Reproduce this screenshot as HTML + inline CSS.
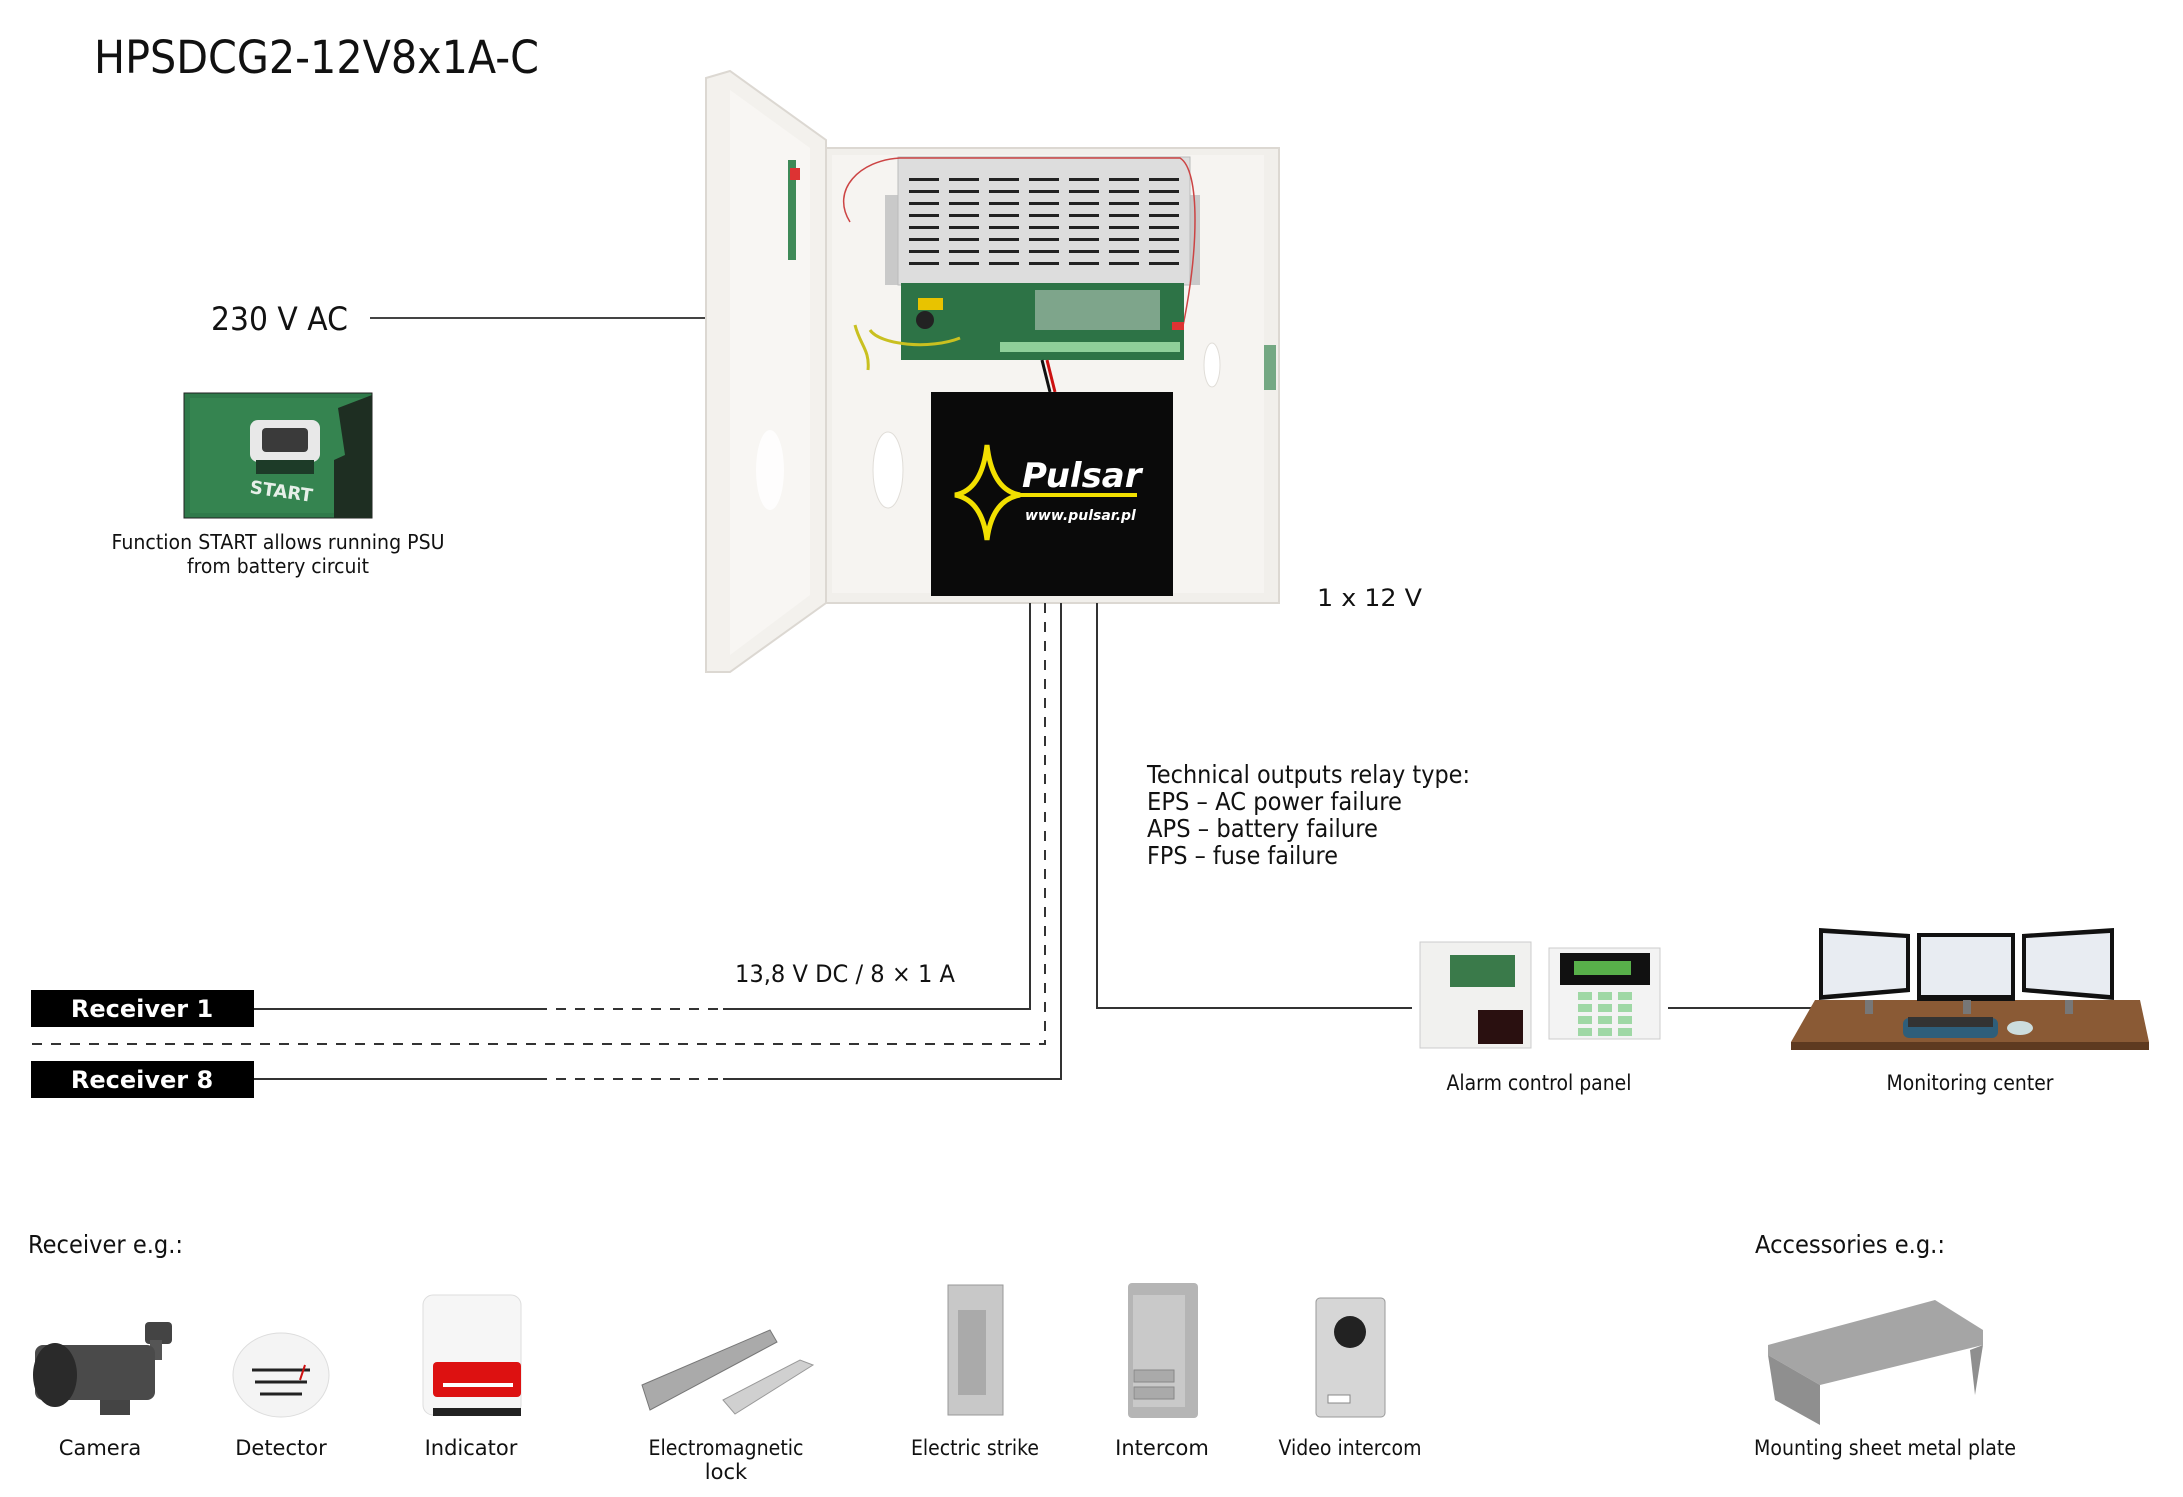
<!DOCTYPE html>
<html><head><meta charset="utf-8"><style>
html,body{margin:0;padding:0;background:#fff;}
svg{display:block;}
text{font-family:"DejaVu Sans","Liberation Sans",sans-serif;fill:#111;}
</style></head><body>
<svg width="2183" height="1497" viewBox="0 0 2183 1497" xmlns="http://www.w3.org/2000/svg">
<text x="94" y="73" font-size="45" textLength="445" lengthAdjust="spacingAndGlyphs">HPSDCG2-12V8x1A-C</text>

<!-- 230 V AC -->
<text x="211" y="330" font-size="32" textLength="137" lengthAdjust="spacingAndGlyphs">230 V AC</text>
<line x1="370" y1="318" x2="712" y2="318" stroke="#444" stroke-width="2"/>

<!-- START photo -->
<rect x="184" y="393" width="188" height="125" fill="#2f7a4a" stroke="#222" stroke-width="1"/>
<rect x="190" y="398" width="176" height="115" fill="#3a8a55" opacity="0.6"/>
<rect x="250" y="420" width="70" height="42" rx="8" fill="#e8e8e8"/>
<rect x="262" y="428" width="46" height="24" rx="4" fill="#3a3a3a"/>
<rect x="256" y="460" width="58" height="14" fill="#1d3b28"/>
<text x="250" y="498" font-size="18" font-weight="bold" style="fill:#e6efe8" transform="rotate(8 285 490)">START</text>
<polygon points="338,408 372,395 372,518 334,518 334,460 345,455" fill="#1e2e22"/>
<text x="278" y="549" font-size="20" text-anchor="middle" textLength="333" lengthAdjust="spacingAndGlyphs">Function START allows running PSU</text>
<text x="278" y="573" font-size="20" text-anchor="middle" textLength="182" lengthAdjust="spacingAndGlyphs">from battery circuit</text>

<!-- Cabinet -->
<rect x="822" y="148" width="457" height="455" fill="#f1efeb" stroke="#dcd8d2" stroke-width="2"/>
<rect x="832" y="155" width="432" height="438" fill="#f6f4f1"/>
<polygon points="706,78 730,71 826,140 826,603 730,672 706,672" fill="#f3f1ed" stroke="#dcd8d2" stroke-width="2"/>
<polygon points="730,90 810,148 810,595 730,655" fill="#f8f6f3"/>
<rect x="788" y="160" width="8" height="100" fill="#3f8a57"/>
<rect x="790" y="168" width="10" height="12" fill="#d33"/>
<ellipse cx="770" cy="470" rx="14" ry="40" fill="#fff" opacity="0.8"/>
<!-- PSU metal -->
<rect x="885" y="195" width="25" height="90" fill="#c9c9c9"/>
<rect x="1175" y="195" width="25" height="90" fill="#c9c9c9"/>
<rect x="898" y="157" width="292" height="128" fill="#dddddd" stroke="#bbb"/>
<g fill="#222">
<rect x="909" y="178" width="30" height="3"/><rect x="949" y="178" width="30" height="3"/><rect x="989" y="178" width="30" height="3"/><rect x="1029" y="178" width="30" height="3"/><rect x="1069" y="178" width="30" height="3"/><rect x="1109" y="178" width="30" height="3"/><rect x="1149" y="178" width="30" height="3"/>
<rect x="909" y="190" width="30" height="3"/><rect x="949" y="190" width="30" height="3"/><rect x="989" y="190" width="30" height="3"/><rect x="1029" y="190" width="30" height="3"/><rect x="1069" y="190" width="30" height="3"/><rect x="1109" y="190" width="30" height="3"/><rect x="1149" y="190" width="30" height="3"/>
<rect x="909" y="202" width="30" height="3"/><rect x="949" y="202" width="30" height="3"/><rect x="989" y="202" width="30" height="3"/><rect x="1029" y="202" width="30" height="3"/><rect x="1069" y="202" width="30" height="3"/><rect x="1109" y="202" width="30" height="3"/><rect x="1149" y="202" width="30" height="3"/>
<rect x="909" y="214" width="30" height="3"/><rect x="949" y="214" width="30" height="3"/><rect x="989" y="214" width="30" height="3"/><rect x="1029" y="214" width="30" height="3"/><rect x="1069" y="214" width="30" height="3"/><rect x="1109" y="214" width="30" height="3"/><rect x="1149" y="214" width="30" height="3"/>
<rect x="909" y="226" width="30" height="3"/><rect x="949" y="226" width="30" height="3"/><rect x="989" y="226" width="30" height="3"/><rect x="1029" y="226" width="30" height="3"/><rect x="1069" y="226" width="30" height="3"/><rect x="1109" y="226" width="30" height="3"/><rect x="1149" y="226" width="30" height="3"/>
<rect x="909" y="238" width="30" height="3"/><rect x="949" y="238" width="30" height="3"/><rect x="989" y="238" width="30" height="3"/><rect x="1029" y="238" width="30" height="3"/><rect x="1069" y="238" width="30" height="3"/><rect x="1109" y="238" width="30" height="3"/><rect x="1149" y="238" width="30" height="3"/>
<rect x="909" y="250" width="30" height="3"/><rect x="949" y="250" width="30" height="3"/><rect x="989" y="250" width="30" height="3"/><rect x="1029" y="250" width="30" height="3"/><rect x="1069" y="250" width="30" height="3"/><rect x="1109" y="250" width="30" height="3"/><rect x="1149" y="250" width="30" height="3"/>
<rect x="909" y="262" width="30" height="3"/><rect x="949" y="262" width="30" height="3"/><rect x="989" y="262" width="30" height="3"/><rect x="1029" y="262" width="30" height="3"/><rect x="1069" y="262" width="30" height="3"/><rect x="1109" y="262" width="30" height="3"/><rect x="1149" y="262" width="30" height="3"/>
</g>
<path d="M850,222 C830,190 860,160 900,158 L1180,158 C1200,170 1200,250 1180,340" fill="none" stroke="#c44" stroke-width="1.5"/>
<!-- PCB -->
<rect x="901" y="283" width="283" height="77" fill="#2d7346"/>
<rect x="918" y="298" width="25" height="12" fill="#e8c300"/>
<circle cx="925" cy="320" r="9" fill="#222"/>
<rect x="1035" y="290" width="125" height="40" fill="#cfd8cf" opacity="0.5"/>
<rect x="1000" y="342" width="180" height="10" fill="#8fcf9a"/>
<rect x="1172" y="322" width="12" height="8" fill="#d33"/>
<path d="M870,330 C880,345 930,350 960,338 M855,325 C860,345 870,350 868,370" fill="none" stroke="#c9c020" stroke-width="3"/>
<line x1="1047" y1="360" x2="1055" y2="392" stroke="#c11" stroke-width="3"/>
<line x1="1042" y1="360" x2="1050" y2="392" stroke="#111" stroke-width="3"/>
<ellipse cx="888" cy="470" rx="15" ry="38" fill="#fff" stroke="#e0ddd8"/>
<ellipse cx="1212" cy="365" rx="8" ry="22" fill="#fff" stroke="#e0ddd8"/>
<rect x="1264" y="345" width="12" height="45" fill="#3f8a57" opacity="0.7"/>
<!-- Battery -->
<rect x="931" y="392" width="242" height="204" fill="#0a0a0a"/>
<path d="M987,445 Q992,490 1020,495 Q992,500 987,540 Q982,500 955,495 Q982,490 987,445 Z" fill="none" stroke="#f2e000" stroke-width="5"/>
<line x1="1020" y1="495" x2="1137" y2="495" stroke="#f2e000" stroke-width="4"/>
<text x="1022" y="487" font-size="34" font-weight="bold" font-style="italic" style="fill:#fff">Pulsar</text>
<text x="1025" y="520" font-size="14" font-weight="bold" font-style="italic" style="fill:#fff">www.pulsar.pl</text>

<text x="1317" y="606" font-size="24" textLength="105" lengthAdjust="spacingAndGlyphs">1 x 12 V</text>

<!-- Technical text -->
<text x="1147" y="783" font-size="25" textLength="323" lengthAdjust="spacingAndGlyphs">Technical outputs relay type:</text>
<text x="1147" y="810" font-size="25" textLength="255" lengthAdjust="spacingAndGlyphs">EPS – AC power failure</text>
<text x="1147" y="837" font-size="25" textLength="231" lengthAdjust="spacingAndGlyphs">APS – battery failure</text>
<text x="1147" y="864" font-size="25" textLength="191" lengthAdjust="spacingAndGlyphs">FPS – fuse failure</text>

<!-- Connectors -->
<g stroke="#333" stroke-width="2" fill="none">
<polyline points="1030,603 1030,1009 723,1009"/>
<line x1="537" y1="1009" x2="254" y2="1009"/>
<line x1="537" y1="1009" x2="723" y2="1009" stroke-dasharray="10,9"/>
<polyline points="1045,603 1045,1044 31,1044" stroke-dasharray="10,9"/>
<polyline points="1061,603 1061,1079 723,1079"/>
<line x1="537" y1="1079" x2="254" y2="1079"/>
<line x1="537" y1="1079" x2="723" y2="1079" stroke-dasharray="10,9"/>
<polyline points="1097,603 1097,1008 1412,1008"/>
<line x1="1668" y1="1008" x2="1813" y2="1008"/>
</g>
<text x="735" y="982" font-size="24" textLength="220" lengthAdjust="spacingAndGlyphs">13,8 V DC / 8 × 1 A</text>

<!-- Receivers -->
<rect x="31" y="990" width="223" height="37" fill="#000"/>
<text x="142" y="1017" font-size="24" font-weight="bold" text-anchor="middle" style="fill:#fff">Receiver 1</text>
<rect x="31" y="1061" width="223" height="37" fill="#000"/>
<text x="142" y="1088" font-size="24" font-weight="bold" text-anchor="middle" style="fill:#fff">Receiver 8</text>

<!-- Alarm panel -->
<rect x="1420" y="942" width="111" height="106" fill="#f1f1ef" stroke="#ccc"/>
<rect x="1450" y="955" width="65" height="32" fill="#3a7a4a"/>
<rect x="1478" y="1010" width="45" height="34" fill="#2a1010"/>
<rect x="1549" y="948" width="111" height="91" fill="#f3f3f3" stroke="#ccc"/>
<rect x="1560" y="953" width="90" height="32" fill="#111"/>
<rect x="1574" y="961" width="57" height="14" fill="#58b04a"/>
<g fill="#9fd8a5"><rect x="1578" y="992" width="14" height="8"/><rect x="1598" y="992" width="14" height="8"/><rect x="1618" y="992" width="14" height="8"/><rect x="1578" y="1004" width="14" height="8"/><rect x="1598" y="1004" width="14" height="8"/><rect x="1618" y="1004" width="14" height="8"/><rect x="1578" y="1016" width="14" height="8"/><rect x="1598" y="1016" width="14" height="8"/><rect x="1618" y="1016" width="14" height="8"/><rect x="1578" y="1028" width="14" height="8"/><rect x="1598" y="1028" width="14" height="8"/><rect x="1618" y="1028" width="14" height="8"/></g>
<text x="1539" y="1090" font-size="21" text-anchor="middle" textLength="185" lengthAdjust="spacingAndGlyphs">Alarm control panel</text>

<!-- Monitoring -->
<polygon points="1815,1000 2140,1000 2149,1042 1791,1042" fill="#8a5a35"/>
<rect x="1791" y="1042" width="358" height="8" fill="#5e3a20"/>
<polygon points="1819,928 1910,934 1910,992 1819,1000" fill="#111"/>
<polygon points="1823,933 1906,938 1906,988 1823,995" fill="#e8ecf2"/>
<rect x="1917" y="933" width="98" height="68" fill="#111"/>
<rect x="1921" y="937" width="90" height="58" fill="#e8ecf2"/>
<polygon points="2022,934 2114,928 2114,1000 2022,992" fill="#111"/>
<polygon points="2026,938 2110,933 2110,995 2026,988" fill="#e8ecf2"/>
<rect x="1865" y="1000" width="8" height="14" fill="#777"/><rect x="1963" y="1000" width="8" height="14" fill="#777"/><rect x="2065" y="1000" width="8" height="14" fill="#777"/>
<rect x="1903" y="1018" width="95" height="20" rx="6" fill="#2e5e7a"/>
<rect x="1908" y="1017" width="85" height="10" fill="#333"/>
<ellipse cx="2020" cy="1028" rx="13" ry="7" fill="#cdd"/>
<text x="1970" y="1090" font-size="21" text-anchor="middle" textLength="167" lengthAdjust="spacingAndGlyphs">Monitoring center</text>

<!-- Bottom -->
<text x="28" y="1253" font-size="25" textLength="155" lengthAdjust="spacingAndGlyphs">Receiver e.g.:</text>
<text x="1755" y="1253" font-size="25" textLength="190" lengthAdjust="spacingAndGlyphs">Accessories e.g.:</text>

<!-- camera -->
<rect x="145" y="1322" width="27" height="22" rx="4" fill="#444"/>
<rect x="150" y="1340" width="12" height="20" fill="#555"/>
<rect x="35" y="1345" width="120" height="55" rx="8" fill="#4a4a4a"/>
<ellipse cx="55" cy="1375" rx="22" ry="32" fill="#2a2a2a"/>
<rect x="100" y="1400" width="30" height="15" fill="#444"/>
<text x="100" y="1455" font-size="21" text-anchor="middle">Camera</text>
<!-- detector -->
<ellipse cx="281" cy="1375" rx="48" ry="42" fill="#f4f4f4" stroke="#ddd"/>
<path d="M252,1370 h58 M255,1382 h52 M260,1394 h42" stroke="#222" stroke-width="3"/>
<line x1="300" y1="1380" x2="305" y2="1365" stroke="#c11" stroke-width="2"/>
<text x="281" y="1455" font-size="21" text-anchor="middle">Detector</text>
<!-- indicator -->
<rect x="423" y="1295" width="98" height="120" rx="10" fill="#f6f6f6" stroke="#ddd"/>
<rect x="433" y="1362" width="88" height="35" rx="4" fill="#d11"/>
<rect x="443" y="1383" width="70" height="4" fill="#fff"/>
<rect x="433" y="1408" width="88" height="8" fill="#222"/>
<text x="471" y="1455" font-size="21" text-anchor="middle">Indicator</text>
<!-- EM lock -->
<polygon points="642,1385 770,1330 777,1342 650,1410" fill="#aaa" stroke="#777"/>
<polygon points="723,1400 800,1360 813,1365 735,1414" fill="#d0d0d0" stroke="#999"/>
<text x="726" y="1455" font-size="21" text-anchor="middle" textLength="155" lengthAdjust="spacingAndGlyphs">Electromagnetic</text>
<text x="726" y="1479" font-size="21" text-anchor="middle">lock</text>
<!-- strike -->
<rect x="948" y="1285" width="55" height="130" fill="#c8c8c8" stroke="#999"/>
<rect x="958" y="1310" width="28" height="85" fill="#aaa"/>
<text x="975" y="1455" font-size="21" text-anchor="middle" textLength="128" lengthAdjust="spacingAndGlyphs">Electric strike</text>
<!-- intercom -->
<rect x="1128" y="1283" width="70" height="135" rx="4" fill="#b5b5b5"/>
<rect x="1133" y="1295" width="52" height="112" fill="#c9c9c9"/>
<rect x="1134" y="1370" width="40" height="12" fill="#aaa" stroke="#888"/>
<rect x="1134" y="1387" width="40" height="12" fill="#aaa" stroke="#888"/>
<text x="1162" y="1455" font-size="21" text-anchor="middle">Intercom</text>
<!-- video intercom -->
<rect x="1316" y="1298" width="69" height="119" rx="4" fill="#d6d6d6" stroke="#999"/>
<circle cx="1350" cy="1332" r="16" fill="#222"/>
<rect x="1328" y="1395" width="22" height="8" fill="#fff" stroke="#888"/>
<text x="1350" y="1455" font-size="21" text-anchor="middle" textLength="143" lengthAdjust="spacingAndGlyphs">Video intercom</text>
<!-- plate -->
<polygon points="1768,1345 1935,1300 1983,1330 1983,1345 1820,1385 1768,1355" fill="#a5a5a5"/>
<polygon points="1768,1355 1820,1385 1820,1425 1775,1400" fill="#8f8f8f"/>
<polygon points="1983,1345 1975,1395 1970,1350" fill="#8f8f8f"/>
<text x="1885" y="1455" font-size="21" text-anchor="middle" textLength="262" lengthAdjust="spacingAndGlyphs">Mounting sheet metal plate</text>
</svg>
</body></html>
